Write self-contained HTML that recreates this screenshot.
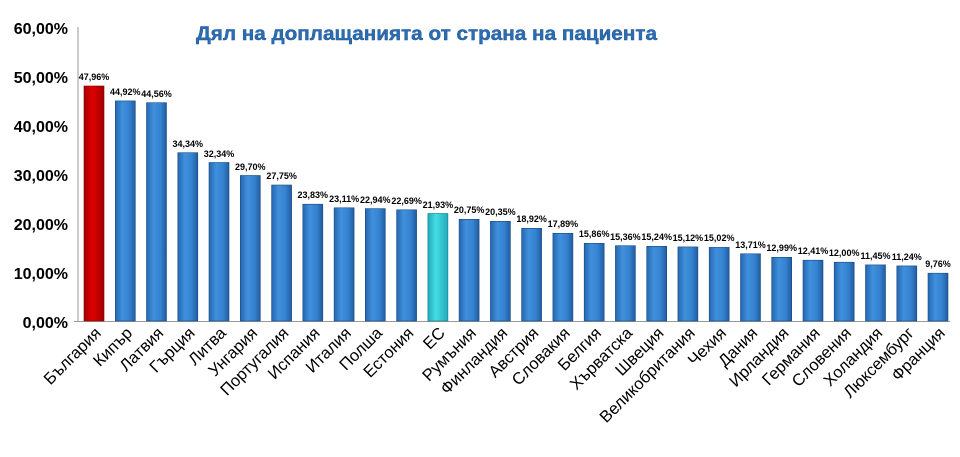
<!DOCTYPE html>
<html><head><meta charset="utf-8"><style>
html,body{margin:0;padding:0;background:#fff;}
svg{display:block;font-family:"Liberation Sans",Arial,sans-serif;}
</style></head><body>
<svg width="960" height="457" viewBox="0 0 960 457" xmlns="http://www.w3.org/2000/svg">
<defs>
<linearGradient id="gb" x1="0" x2="1" y1="0" y2="0"><stop offset="0" stop-color="#2566b0"/><stop offset="0.35" stop-color="#4090dc"/><stop offset="0.7" stop-color="#3582d0"/><stop offset="1" stop-color="#215ca0"/></linearGradient>
<linearGradient id="gr" x1="0" x2="1" y1="0" y2="0"><stop offset="0" stop-color="#a00000"/><stop offset="0.4" stop-color="#e00000"/><stop offset="1" stop-color="#a00000"/></linearGradient>
<linearGradient id="gc" x1="0" x2="1" y1="0" y2="0"><stop offset="0" stop-color="#22aab8"/><stop offset="0.4" stop-color="#44dde6"/><stop offset="1" stop-color="#22aab8"/></linearGradient>
</defs>
<g font-size="16" font-weight="bold" text-anchor="end" fill="#000">
<text x="68" y="34">60,00%</text><text x="68" y="83">50,00%</text><text x="68" y="132">40,00%</text><text x="68" y="181">30,00%</text><text x="68" y="230">20,00%</text><text x="68" y="279">10,00%</text><text x="68" y="328">0,00%</text>
</g>
<line x1="78" y1="27" x2="78" y2="322" stroke="#999"/>
<line x1="74" y1="321.5" x2="950" y2="321.5" stroke="#999"/>
<text x="196" y="40" font-size="19" font-weight="bold" fill="#2a6db5" textLength="461" lengthAdjust="spacingAndGlyphs" stroke="#1a4f8a" stroke-width="0.4">Дял на доплащанията от страна на пациента</text>
<g stroke="#1a4a80" stroke-width="0.6">
<rect x="84" y="86" width="20" height="235" fill="url(#gr)" stroke="#800"/>
<rect x="115.3" y="100.9" width="20" height="220.1" fill="url(#gb)"/>
<rect x="146.5" y="102.7" width="20" height="218.3" fill="url(#gb)"/>
<rect x="177.8" y="152.7" width="20" height="168.3" fill="url(#gb)"/>
<rect x="209" y="162.5" width="20" height="158.5" fill="url(#gb)"/>
<rect x="240.3" y="175.5" width="20" height="145.5" fill="url(#gb)"/>
<rect x="271.6" y="185" width="20" height="136" fill="url(#gb)"/>
<rect x="302.8" y="204.2" width="20" height="116.8" fill="url(#gb)"/>
<rect x="334.1" y="207.8" width="20" height="113.2" fill="url(#gb)"/>
<rect x="365.3" y="208.6" width="20" height="112.4" fill="url(#gb)"/>
<rect x="396.6" y="209.8" width="20" height="111.2" fill="url(#gb)"/>
<rect x="427.9" y="213.5" width="20" height="107.5" fill="url(#gc)" stroke="#178"/>
<rect x="459.1" y="219.3" width="20" height="101.7" fill="url(#gb)"/>
<rect x="490.4" y="221.3" width="20" height="99.7" fill="url(#gb)"/>
<rect x="521.6" y="228.3" width="20" height="92.7" fill="url(#gb)"/>
<rect x="552.9" y="233.3" width="20" height="87.7" fill="url(#gb)"/>
<rect x="584.2" y="243.3" width="20" height="77.7" fill="url(#gb)"/>
<rect x="615.4" y="245.7" width="20" height="75.3" fill="url(#gb)"/>
<rect x="646.7" y="246.3" width="20" height="74.7" fill="url(#gb)"/>
<rect x="677.9" y="246.9" width="20" height="74.1" fill="url(#gb)"/>
<rect x="709.2" y="247.4" width="20" height="73.6" fill="url(#gb)"/>
<rect x="740.5" y="253.8" width="20" height="67.2" fill="url(#gb)"/>
<rect x="771.7" y="257.3" width="20" height="63.7" fill="url(#gb)"/>
<rect x="803" y="260.2" width="20" height="60.8" fill="url(#gb)"/>
<rect x="834.2" y="262.2" width="20" height="58.8" fill="url(#gb)"/>
<rect x="865.5" y="264.9" width="20" height="56.1" fill="url(#gb)"/>
<rect x="896.8" y="265.9" width="20" height="55.1" fill="url(#gb)"/>
<rect x="928" y="273.2" width="20" height="47.8" fill="url(#gb)"/>
</g>
<g font-size="9" font-weight="bold" text-anchor="middle" fill="#000">
<text x="94" y="80">47,96%</text><text x="125.3" y="95">44,92%</text><text x="156.5" y="97">44,56%</text><text x="187.8" y="147">34,34%</text><text x="219" y="157">32,34%</text><text x="250.3" y="170">29,70%</text><text x="281.6" y="179">27,75%</text><text x="312.8" y="198">23,83%</text><text x="344.1" y="202">23,11%</text><text x="375.3" y="203">22,94%</text><text x="406.6" y="204">22,69%</text><text x="437.9" y="208">21,93%</text><text x="469.1" y="213">20,75%</text><text x="500.4" y="215">20,35%</text><text x="531.6" y="222">18,92%</text><text x="562.9" y="227">17,89%</text><text x="594.2" y="237">15,86%</text><text x="625.4" y="240">15,36%</text><text x="656.7" y="240">15,24%</text><text x="687.9" y="241">15,12%</text><text x="719.2" y="241">15,02%</text><text x="750.5" y="248">13,71%</text><text x="781.7" y="251">12,99%</text><text x="813" y="254">12,41%</text><text x="844.2" y="256">12,00%</text><text x="875.5" y="259">11,45%</text><text x="906.8" y="260">11,24%</text><text x="938" y="267">9,76%</text>
</g>
<g font-size="16.5" text-anchor="end" fill="#000">
<text transform="translate(102,334) rotate(-45)">България</text>
<text transform="translate(133.3,334) rotate(-45)">Кипър</text>
<text transform="translate(164.5,334) rotate(-45)">Латвия</text>
<text transform="translate(195.8,334) rotate(-45)">Гърция</text>
<text transform="translate(227,334) rotate(-45)">Литва</text>
<text transform="translate(258.3,334) rotate(-45)">Унгария</text>
<text transform="translate(289.6,334) rotate(-45)">Португалия</text>
<text transform="translate(320.8,334) rotate(-45)">Испания</text>
<text transform="translate(352.1,334) rotate(-45)">Италия</text>
<text transform="translate(383.3,334) rotate(-45)">Полша</text>
<text transform="translate(414.6,334) rotate(-45)">Естония</text>
<text transform="translate(445.9,334) rotate(-45)">ЕС</text>
<text transform="translate(477.1,334) rotate(-45)">Румъния</text>
<text transform="translate(508.4,334) rotate(-45)">Финландия</text>
<text transform="translate(539.6,334) rotate(-45)">Австрия</text>
<text transform="translate(570.9,334) rotate(-45)">Словакия</text>
<text transform="translate(602.2,334) rotate(-45)">Белгия</text>
<text transform="translate(633.4,334) rotate(-45)">Хърватска</text>
<text transform="translate(664.7,334) rotate(-45)">Швеция</text>
<text transform="translate(695.9,334) rotate(-45)">Великобритания</text>
<text transform="translate(727.2,334) rotate(-45)">Чехия</text>
<text transform="translate(758.5,334) rotate(-45)">Дания</text>
<text transform="translate(789.7,334) rotate(-45)">Ирландия</text>
<text transform="translate(821,334) rotate(-45)">Германия</text>
<text transform="translate(852.2,334) rotate(-45)">Словения</text>
<text transform="translate(883.5,334) rotate(-45)">Холандия</text>
<text transform="translate(914.8,334) rotate(-45)">Люксембург</text>
<text transform="translate(946,334) rotate(-45)">Франция</text>
</g>
</svg>
</body></html>
